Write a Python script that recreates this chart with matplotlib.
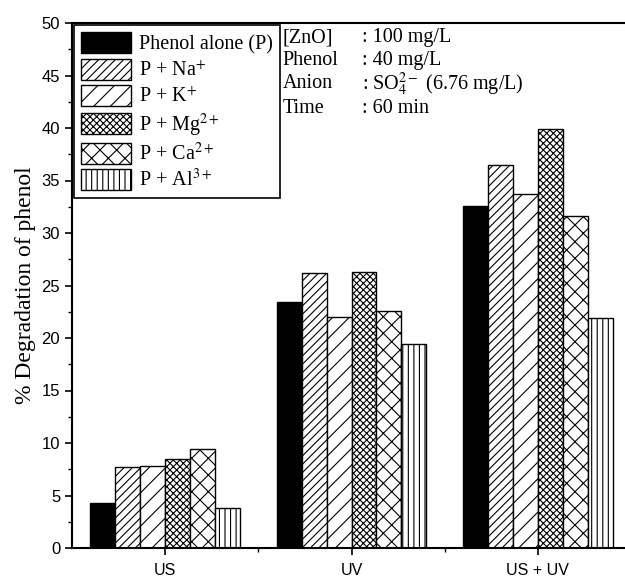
import matplotlib
matplotlib.use("Agg")
import matplotlib.pyplot as plt
import numpy as np

categories = ["US", "UV", "US + UV"]
series_labels = ["Phenol alone (P)", "P + Na$^{+}$", "P + K$^{+}$",
                 "P + Mg$^{2+}$", "P + Ca$^{2+}$", "P + Al$^{3+}$"]
phenol_alone = [4.3, 23.4, 32.6]
p_na = [7.7, 26.2, 36.5]
p_k = [7.8, 22.0, 33.7]
p_mg = [8.5, 26.3, 39.9]
p_ca = [9.4, 22.6, 31.6]
p_al = [3.8, 19.4, 21.9]
series = [phenol_alone, p_na, p_k, p_mg, p_ca, p_al]
hatches = [None, "////", "//", "xxxxx", "xx", "|||"]
facecolors = ["black", "white", "white", "white", "white", "white"]

info_keys = ["[ZnO]", "Phenol", "Anion", "Time"]
info_vals = [": 100 mg/L", ": 40 mg/L", ": SO$_4^{2-}$ (6.76 mg/L)", ": 60 min"]

plt.rcParams["hatch.linewidth"] = 0.8
plt.rcParams["mathtext.fontset"] = "stix"

fig = plt.figure(figsize=(6.25, 5.78), dpi=100)
ax = fig.add_axes([72/625, 30/578, 559/625, 525/578])

x = np.arange(1, len(categories) + 1)
w = 0.134
for i, (vals, lab, h, fc) in enumerate(zip(series, series_labels, hatches, facecolors)):
    ax.bar(x + (i - 2.5) * w, vals, width=w, color=fc, edgecolor="black",
           hatch=h, linewidth=1.0, label=lab)

ax.set_xlim(0.5, 3.5)
ax.set_ylim(0, 50)
ax.set_xticks(x)
ax.set_xticklabels(categories, fontfamily="Liberation Sans", fontsize=11.5)
ax.set_xticks([1.5, 2.5], minor=True)
ax.set_yticks(np.arange(0, 51, 5))
ax.set_yticks(np.arange(2.5, 50, 5), minor=True)
for lbl in ax.get_yticklabels():
    lbl.set_fontfamily("Liberation Sans")
    lbl.set_fontsize(12)
ax.tick_params(axis="both", which="major", direction="out", length=5, width=1.2)
ax.tick_params(axis="both", which="minor", direction="out", length=3, width=1.0)
ax.tick_params(axis="x", pad=6)
for s in ["left", "bottom", "top"]:
    ax.spines[s].set_linewidth(1.5)
ax.spines["right"].set_visible(False)

ax.set_ylabel("% Degradation of phenol", fontfamily="Liberation Serif", fontsize=17, labelpad=4)

leg = ax.legend(loc="upper left", bbox_to_anchor=(0.0, 1.0), borderaxespad=0.1,
                prop={"family": "Liberation Serif", "size": 14.5},
                handlelength=2.5, handleheight=1.25, labelspacing=0.2,
                handletextpad=0.4, borderpad=0.35, fancybox=False,
                edgecolor="black", framealpha=1)
leg.get_frame().set_linewidth(1.2)

ys = [48.6, 46.4, 44.2, 41.9]
for k, v, yy in zip(info_keys, info_vals, ys):
    ax.text(1.631, yy, k, fontfamily="Liberation Serif", fontsize=14.5, va="center", ha="left")
    ax.text(2.055, yy, v, fontfamily="Liberation Serif", fontsize=14.5, va="center", ha="left")

fig.savefig("out.png", dpi=100)
